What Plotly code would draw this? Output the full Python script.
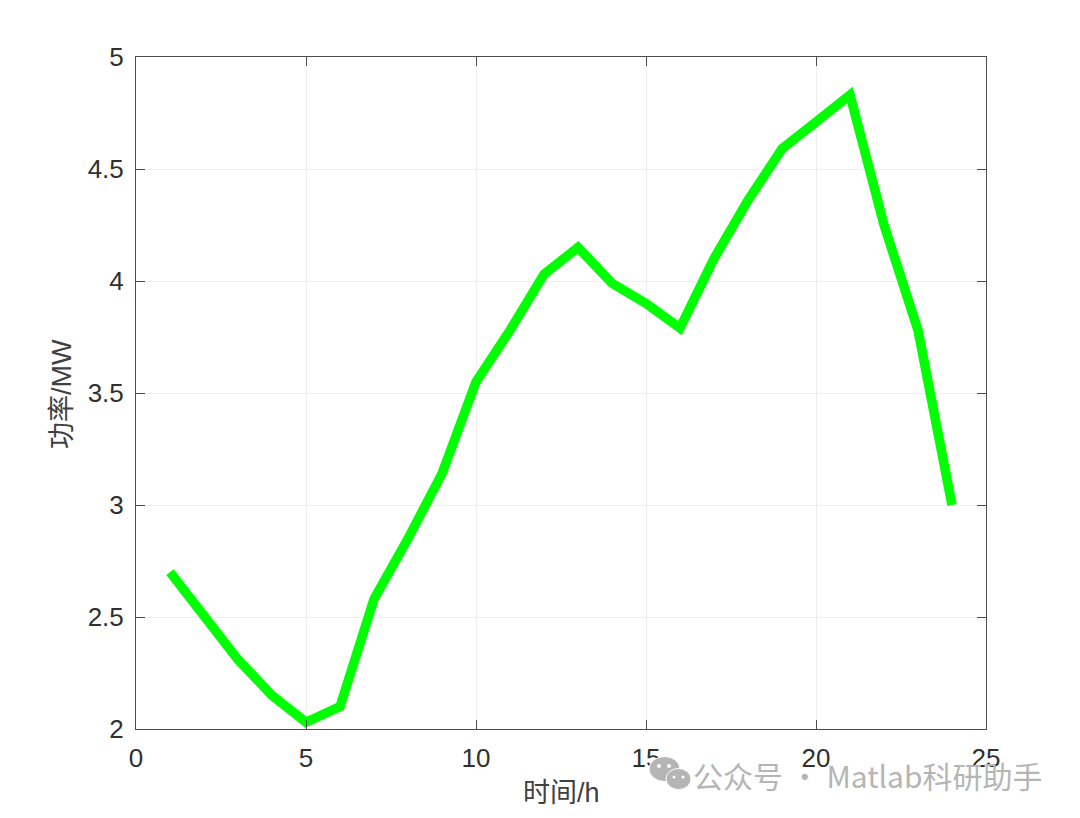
import plotly.graph_objects as go

hours = list(range(1, 25))
power = [2.70, 2.51, 2.31, 2.15, 2.03, 2.10, 2.58, 2.85, 3.14, 3.55, 3.78, 4.03, 4.15, 3.99, 3.90, 3.79,
         4.10, 4.36, 4.59, 4.71, 4.83, 4.25, 3.78, 3.00]
x_ticks = [0, 5, 10, 15, 20, 25]
y_ticks = [2, 2.5, 3, 3.5, 4, 4.5, 5]
y_labels = ['2', '2.5', '3', '3.5', '4', '4.5', '5']

# 绘图区像素位置 (页面有 8px 边距)
L, T, W, H = 136, 57, 850, 672


def px_x(p):
    return (p - L) / W


def px_y(p):
    return (T + H - p) / H


fig = go.Figure()
fig.add_trace(go.Scatter(x=hours, y=power, mode='lines', line=dict(color='#00ff00', width=9.5), showlegend=False))

axis_style = dict(showline=True, linecolor='#4d4d4d', linewidth=1, mirror='ticks', ticks='inside', ticklen=9,
                  tickcolor='#4d4d4d', showgrid=True, gridcolor='#eeeeee', gridwidth=1, zeroline=False,
                  tickfont=dict(family='Liberation Sans', size=26, color='#303030'))

fig.update_xaxes(range=[0, 25], tickvals=x_ticks, ticklabelstandoff=6, **axis_style)
fig.update_yaxes(range=[2, 5], tickvals=y_ticks, ticktext=y_labels, ticklabelstandoff=6, **axis_style)

fig.update_layout(width=1080, height=818, margin=dict(l=L - 8, r=1080 - L - W + 8, t=T - 8, b=818 - T - H + 8, autoexpand=False),
                  paper_bgcolor='white', plot_bgcolor='white', showlegend=False)

title_font = dict(family='Liberation Sans, Noto Sans CJK SC', size=27, color='#404040')
fig.add_annotation(text='时间/h', xref='paper', yref='paper', x=px_x(561), y=px_y(793), xanchor='center',
                   yanchor='middle', showarrow=False, font=title_font)
fig.add_annotation(text='功率/MW', xref='paper', yref='paper', x=px_x(62), y=px_y(394), xanchor='center',
                   yanchor='middle', textangle=-90, showarrow=False, font=title_font)

# 水印
fig.add_annotation(text='公众号 · Matlab科研助手', xref='paper', yref='paper', x=px_x(1045), y=px_y(775), xanchor='right',
                   yanchor='middle', showarrow=False, font=dict(family='Noto Sans CJK SC', size=30, color='#b5b5b5'))

# 微信图标
for cx, cy, rx, ry, col in [(664.5, 769, 15.5, 12.5, '#b5b5b5'), (678.5, 779, 12.5, 10.5, '#b5b5b5'),
                            (659, 766, 2, 2, 'white'), (669, 766, 2, 2, 'white'),
                            (674, 777, 1.5, 1.5, 'white'), (683, 777, 1.5, 1.5, 'white')]:
    fig.add_shape(type='circle', xref='paper', yref='paper', x0=px_x(cx - rx), x1=px_x(cx + rx),
                  y0=px_y(cy + ry), y1=px_y(cy - ry), fillcolor=col, line=dict(color='white', width=1 if rx > 5 else 0))

fig.write_html('out.html')
